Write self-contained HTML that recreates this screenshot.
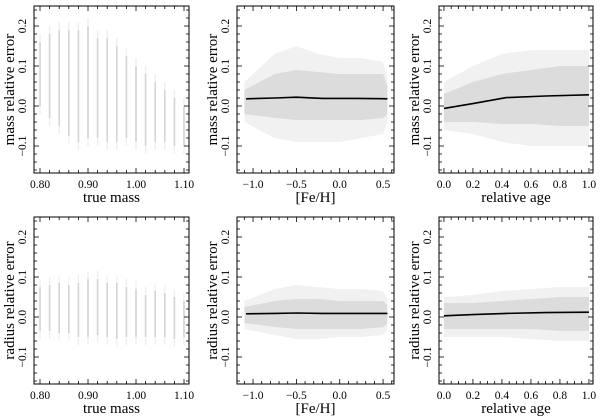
<!DOCTYPE html>
<html><head><meta charset="utf-8"><style>
html,body{margin:0;padding:0;background:#fff;}
svg{display:block;font-family:"Liberation Serif",serif;}
</style></head><body>
<svg id="fig" width="600" height="416" viewBox="0 0 600 416" xmlns="http://www.w3.org/2000/svg"></svg>
<script>
// ---- data ----
const massStripes = [0.80,0.82,0.84,0.86,0.88,0.90,0.92,0.94,0.96,0.98,1.00,1.02,1.04,1.06,1.08,1.10];
const massErrLo = [0.0,-0.03,-0.05,-0.075,-0.09,-0.08,-0.08,-0.09,-0.09,-0.08,-0.09,-0.1,-0.09,-0.09,-0.1,-0.1];
const massErrHi = [0.16,0.18,0.19,0.19,0.19,0.2,0.17,0.17,0.15,0.125,0.1,0.08,0.06,0.04,0.02,0.0];
const radErrLo = [-0.035,-0.035,-0.04,-0.04,-0.05,-0.05,-0.045,-0.05,-0.055,-0.05,-0.05,-0.05,-0.05,-0.05,-0.055,-0.05];
const radErrHi = [0.075,0.08,0.085,0.08,0.085,0.095,0.095,0.085,0.085,0.075,0.07,0.055,0.065,0.06,0.05,0.04];

const fehBins = [-1.1,-0.75,-0.5,-0.25,0.0,0.25,0.5,0.55];
const fehMassCoreLo = [-0.02,-0.03,-0.035,-0.035,-0.035,-0.035,-0.03,-0.02];
const fehMassCoreHi = [0.04,0.08,0.09,0.085,0.08,0.08,0.08,0.05];
const fehMassOutLo = [-0.04,-0.08,-0.09,-0.09,-0.09,-0.08,-0.07,-0.04];
const fehMassOutHi = [0.06,0.13,0.15,0.13,0.12,0.12,0.11,0.07];
const fehRadCoreLo = [-0.015,-0.025,-0.03,-0.03,-0.03,-0.03,-0.025,-0.015];
const fehRadCoreHi = [0.025,0.04,0.045,0.045,0.04,0.04,0.04,0.03];
const fehRadOutLo = [-0.03,-0.045,-0.055,-0.055,-0.05,-0.05,-0.045,-0.03];
const fehRadOutHi = [0.04,0.07,0.08,0.075,0.07,0.07,0.065,0.045];

const ageBins = [0.0,0.2,0.4,0.6,0.8,1.0];
const ageMassCoreLo = [-0.04,-0.04,-0.045,-0.045,-0.05,-0.05];
const ageMassCoreHi = [0.03,0.06,0.08,0.09,0.1,0.1];
const ageMassOutLo = [-0.06,-0.07,-0.09,-0.1,-0.1,-0.1];
const ageMassOutHi = [0.06,0.1,0.13,0.14,0.14,0.14];
const ageRadCoreLo = [-0.03,-0.03,-0.03,-0.03,-0.035,-0.035];
const ageRadCoreHi = [0.035,0.035,0.04,0.045,0.05,0.05];
const ageRadOutLo = [-0.05,-0.05,-0.05,-0.055,-0.06,-0.06];
const ageRadOutHi = [0.05,0.055,0.065,0.07,0.075,0.075];

const fehLineX = [-1.08,-0.75,-0.5,-0.2,0.2,0.55];
const fehMassLineY = [0.018,0.020,0.022,0.019,0.019,0.018];
const fehRadLineY = [0.008,0.009,0.010,0.009,0.009,0.009];
const ageLineX = [0.0,0.2,0.43,0.7,1.0];
const ageMassLineY = [-0.006,0.006,0.021,0.025,0.028];
const ageRadLineY = [0.003,0.006,0.009,0.011,0.012];

const yTicks = [-0.1,0.0,0.1,0.2];
const yTickLabels = ["\u22120.1","0.0","0.1","0.2"];
const massTicks = [0.80,0.90,1.00,1.10];
const massTickLabels = ["0.80","0.90","1.00","1.10"];
const fehTicks = [-1.0,-0.5,0.0,0.5];
const fehTickLabels = ["\u22121.0","\u22120.5","0.0","0.5"];
const ageTicks = [0.0,0.2,0.4,0.6,0.8,1.0];
const ageTickLabels = ["0.0","0.2","0.4","0.6","0.8","1.0"];

// ---- drawing ----
const svg = document.getElementById('fig');
const NS = 'http://www.w3.org/2000/svg';
function mk(tag, attrs, parent){
  const e = document.createElementNS(NS, tag);
  for (const k in attrs) e.setAttribute(k, attrs[k]);
  (parent||svg).appendChild(e);
  return e;
}
function panel(cfg){
  const g = mk('g', {});
  
  
  const L=cfg.L,R=cfg.R,T=cfg.T,B=cfg.B;
  const sx = v => L + (v - cfg.x0)/(cfg.x1 - cfg.x0)*(R-L);
  const sy = v => cfg.y0px - v*400;
  cfg.draw(g, sx, sy);
  const fr = mk('rect', {x:L, y:T, width:R-L, height:B-T, fill:'none', stroke:'#000', 'stroke-width':1}, g);
  
  
  for (let i=-8;i<=12;i++){
    const v=i*0.02, y=sy(v); if (y<T||y>B) continue;
    const major = Math.abs(v*10-Math.round(v*10))<1e-6;
    const len = major?5:3;
    mk('line',{x1:L,x2:L+len,y1:y,y2:y,stroke:'#000','stroke-width':0.8},g);
    mk('line',{x1:R,x2:R-len,y1:y,y2:y,stroke:'#000','stroke-width':0.8},g);
  }
  for (let i=0;i<yTicks.length;i++){
    const y=sy(yTicks[i]), x=L-11;
    const t = mk('text',{x:x,y:y,'font-size':11.5,'text-anchor':'middle','dominant-baseline':'central',transform:`rotate(-90 ${x} ${y})`,fill:'#000'},g);
    t.textContent = yTickLabels[i];
    
    
  }
  for (let v=cfg.minorStart; v<=cfg.x1+1e-9; v+=cfg.minorStep){
    const x=sx(v); if (x<L||x>R) continue;
    const major = cfg.xTicks.some(t=>Math.abs(t-v)<1e-6);
    const len = major?5:3;
    mk('line',{x1:x,x2:x,y1:B,y2:B-len,stroke:'#000','stroke-width':0.8},g);
    mk('line',{x1:x,x2:x,y1:T,y2:T+len,stroke:'#000','stroke-width':0.8},g);
  }
  for (let i=0;i<cfg.xTicks.length;i++){
    const t = mk('text',{x:sx(cfg.xTicks[i]),y:B+15,'font-size':11.5,'text-anchor':'middle',fill:'#000'},g);
    t.textContent = cfg.xLabels[i];
    
    
  }
  const xt = mk('text',{x:(L+R)/2,y:B+29,'font-size':15,'text-anchor':'middle',fill:'#000'},g);
  xt.textContent = cfg.xTitle;
  
  
  const yx=L-24, yy=(T+B)/2;
  const yt = mk('text',{x:yx,y:yy,'font-size':15,'text-anchor':'middle','dominant-baseline':'central',transform:`rotate(-90 ${yx} ${yy})`,fill:'#000'},g);
  yt.textContent = cfg.yTitle;
  
  
}
function stripes(lo,hi){
  return (g,sx,sy)=>{
    for (let i=0;i<massStripes.length;i++){
      const x=sx(massStripes[i]);
      const faint = mk('line',{x1:x,x2:x,y1:sy(hi[i]+0.02),y2:sy(lo[i]-0.02),stroke:'#f0f0f0','stroke-width':1.4},g);
      
      
      const s = mk('line',{x1:x,x2:x,y1:sy(hi[i]),y2:sy(lo[i]),stroke:'#d4d4d4','stroke-width':1.6},g);
      
      
    }
  };
}
function cloud(xs,oLo,oHi,cLo,cHi,lx,ly){
  return (g,sx,sy)=>{
    function band(lo,hi,fill,name){
      let d='M'+xs.map((x,i)=>sx(x)+','+sy(hi[i])).join(' L');
      d+=' L'+xs.map((x,i)=>[x,i]).reverse().map(([x,i])=>sx(x)+','+sy(lo[i])).join(' L')+'Z';
      const p=mk('path',{d:d,fill:fill,stroke:'none'},g);
      
      
    }
    band(oLo,oHi,'#f1f1f1','scatter-outer');
    band(cLo,cHi,'#dcdcdc','scatter-core');
    const pts = lx.map((x,i)=>sx(x)+','+sy(ly[i])).join(' ');
    const pl = mk('polyline',{points:pts,fill:'none',stroke:'#000','stroke-width':1.6},g);
    
    
  };
}
const rows=[{T:6,B:173,y0:106},{T:217,B:384,y0:317}];
const cols=[
  {L:34,R:189,x0:0.7875,x1:1.1104,xTicks:massTicks,xLabels:massTickLabels,minorStart:0.78,minorStep:0.02,xTitle:'true mass'},
  {L:237,R:394,x0:-1.185,x1:0.626,xTicks:fehTicks,xLabels:fehTickLabels,minorStart:-1.2,minorStep:0.1,xTitle:'[Fe/H]'},
  {L:439,R:593,x0:-0.034,x1:1.028,xTicks:ageTicks,xLabels:ageTickLabels,minorStart:0,minorStep:0.05,xTitle:'relative age'}
];
const draws=[
  [stripes(massErrLo,massErrHi), cloud(fehBins,fehMassOutLo,fehMassOutHi,fehMassCoreLo,fehMassCoreHi,fehLineX,fehMassLineY), cloud(ageBins,ageMassOutLo,ageMassOutHi,ageMassCoreLo,ageMassCoreHi,ageLineX,ageMassLineY)],
  [stripes(radErrLo,radErrHi), cloud(fehBins,fehRadOutLo,fehRadOutHi,fehRadCoreLo,fehRadCoreHi,fehLineX,fehRadLineY), cloud(ageBins,ageRadOutLo,ageRadOutHi,ageRadCoreLo,ageRadCoreHi,ageLineX,ageRadLineY)]
];
const names=[['mass-vs-true-mass','mass-vs-feh','mass-vs-age'],['radius-vs-true-mass','radius-vs-feh','radius-vs-age']];
for (let r=0;r<2;r++) for (let c=0;c<3;c++){
  const col=cols[c], row=rows[r];
  panel(Object.assign({},col,{T:row.T,B:row.B,y0px:row.y0,name:names[r][c],
    yTitle:r===0?'mass relative error':'radius relative error',draw:draws[r][c]}));
}
</script>
</body></html>
